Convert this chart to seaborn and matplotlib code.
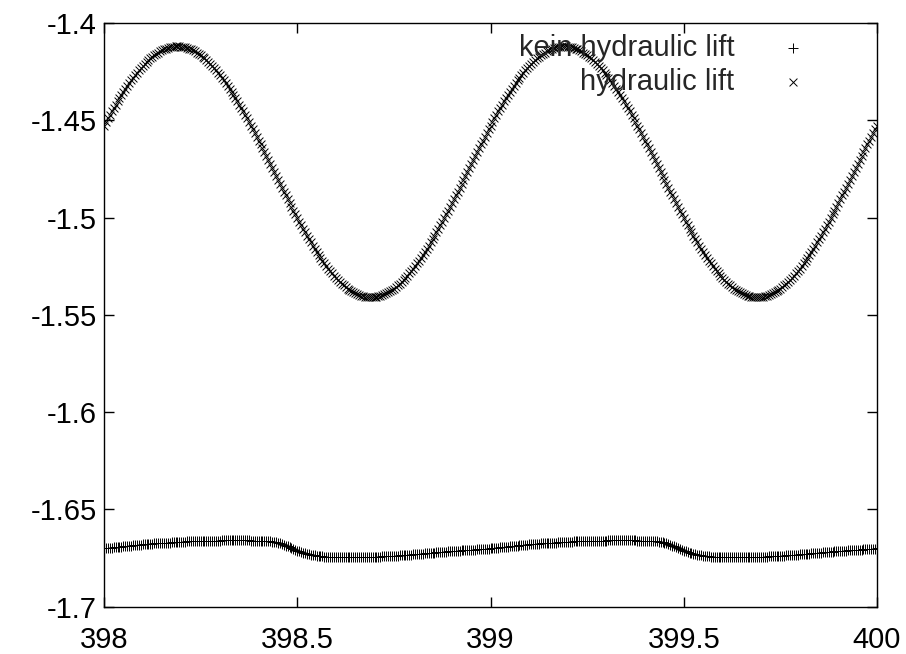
import matplotlib
matplotlib.use("Agg")
import matplotlib.pyplot as plt
import seaborn as sns
import pandas as pd
from matplotlib.ticker import FuncFormatter, FixedLocator

# time axis, sampled every 0.005 from 398 to 400
x_start, x_step, n_points = 398.0, 0.005, 401
time = [round(x_start + i * x_step, 3) for i in range(n_points)]

# reading without hydraulic lift
kein_lift = [
    -1.6700, -1.6699, -1.6698, -1.6697, -1.6696, -1.6695, -1.6694, -1.6693, -1.6692, -1.6691,
    -1.6690, -1.6689, -1.6688, -1.6687, -1.6686, -1.6685, -1.6684, -1.6683, -1.6682, -1.6681,
    -1.6680, -1.6679, -1.6678, -1.6677, -1.6677, -1.6676, -1.6675, -1.6674, -1.6674, -1.6673,
    -1.6672, -1.6671, -1.6671, -1.6670, -1.6670, -1.6669, -1.6668, -1.6667, -1.6667, -1.6666,
    -1.6666, -1.6665, -1.6665, -1.6664, -1.6664, -1.6663, -1.6663, -1.6663, -1.6663, -1.6662,
    -1.6662, -1.6661, -1.6661, -1.6661, -1.6661, -1.6660, -1.6660, -1.6660, -1.6660, -1.6660,
    -1.6660, -1.6659, -1.6659, -1.6659, -1.6659, -1.6659, -1.6659, -1.6659, -1.6659, -1.6659,
    -1.6659, -1.6659, -1.6659, -1.6659, -1.6659, -1.6659, -1.6660, -1.6660, -1.6660, -1.6660,
    -1.6660, -1.6660, -1.6661, -1.6661, -1.6662, -1.6663, -1.6664, -1.6665, -1.6667, -1.6669,
    -1.6672, -1.6675, -1.6678, -1.6682, -1.6686, -1.6690, -1.6695, -1.6700, -1.6704, -1.6708,
    -1.6712, -1.6716, -1.6719, -1.6722, -1.6725, -1.6728, -1.6730, -1.6732, -1.6734, -1.6736,
    -1.6737, -1.6739, -1.6740, -1.6741, -1.6742, -1.6743, -1.6743, -1.6744, -1.6744, -1.6745,
    -1.6745, -1.6745, -1.6745, -1.6745, -1.6745, -1.6745, -1.6745, -1.6745, -1.6745, -1.6745,
    -1.6745, -1.6745, -1.6745, -1.6745, -1.6744, -1.6744, -1.6744, -1.6744, -1.6743, -1.6743,
    -1.6743, -1.6743, -1.6742, -1.6742, -1.6741, -1.6741, -1.6740, -1.6740, -1.6739, -1.6739,
    -1.6738, -1.6738, -1.6737, -1.6736, -1.6735, -1.6735, -1.6734, -1.6733, -1.6732, -1.6732,
    -1.6731, -1.6730, -1.6729, -1.6729, -1.6728, -1.6727, -1.6726, -1.6726, -1.6725, -1.6724,
    -1.6723, -1.6722, -1.6721, -1.6721, -1.6720, -1.6719, -1.6718, -1.6717, -1.6716, -1.6716,
    -1.6715, -1.6714, -1.6713, -1.6713, -1.6712, -1.6711, -1.6710, -1.6710, -1.6709, -1.6709,
    -1.6708, -1.6707, -1.6706, -1.6705, -1.6704, -1.6704, -1.6703, -1.6702, -1.6701, -1.6701,
    -1.6700, -1.6699, -1.6698, -1.6697, -1.6696, -1.6695, -1.6694, -1.6693, -1.6692, -1.6691,
    -1.6690, -1.6689, -1.6688, -1.6687, -1.6686, -1.6685, -1.6684, -1.6683, -1.6682, -1.6681,
    -1.6680, -1.6679, -1.6678, -1.6677, -1.6677, -1.6676, -1.6675, -1.6674, -1.6674, -1.6673,
    -1.6672, -1.6671, -1.6671, -1.6670, -1.6670, -1.6669, -1.6668, -1.6667, -1.6667, -1.6666,
    -1.6666, -1.6665, -1.6665, -1.6664, -1.6664, -1.6663, -1.6663, -1.6663, -1.6663, -1.6662,
    -1.6662, -1.6661, -1.6661, -1.6661, -1.6661, -1.6660, -1.6660, -1.6660, -1.6660, -1.6660,
    -1.6660, -1.6659, -1.6659, -1.6659, -1.6659, -1.6659, -1.6659, -1.6659, -1.6659, -1.6659,
    -1.6659, -1.6659, -1.6659, -1.6659, -1.6659, -1.6659, -1.6660, -1.6660, -1.6660, -1.6660,
    -1.6660, -1.6660, -1.6661, -1.6661, -1.6662, -1.6663, -1.6664, -1.6665, -1.6667, -1.6669,
    -1.6672, -1.6675, -1.6678, -1.6682, -1.6686, -1.6690, -1.6695, -1.6700, -1.6704, -1.6708,
    -1.6712, -1.6716, -1.6719, -1.6722, -1.6725, -1.6728, -1.6730, -1.6732, -1.6734, -1.6736,
    -1.6737, -1.6739, -1.6740, -1.6741, -1.6742, -1.6743, -1.6743, -1.6744, -1.6744, -1.6745,
    -1.6745, -1.6745, -1.6745, -1.6745, -1.6745, -1.6745, -1.6745, -1.6745, -1.6745, -1.6745,
    -1.6745, -1.6745, -1.6745, -1.6745, -1.6744, -1.6744, -1.6744, -1.6744, -1.6743, -1.6743,
    -1.6743, -1.6743, -1.6742, -1.6742, -1.6741, -1.6741, -1.6740, -1.6740, -1.6739, -1.6739,
    -1.6738, -1.6738, -1.6737, -1.6736, -1.6735, -1.6735, -1.6734, -1.6733, -1.6732, -1.6732,
    -1.6731, -1.6730, -1.6729, -1.6729, -1.6728, -1.6727, -1.6726, -1.6726, -1.6725, -1.6724,
    -1.6723, -1.6722, -1.6721, -1.6721, -1.6720, -1.6719, -1.6718, -1.6717, -1.6716, -1.6716,
    -1.6715, -1.6714, -1.6713, -1.6713, -1.6712, -1.6711, -1.6710, -1.6710, -1.6709, -1.6709,
    -1.6708, -1.6707, -1.6706, -1.6705, -1.6704, -1.6704, -1.6703, -1.6702, -1.6701, -1.6701,
    -1.6700,
]

# reading with hydraulic lift
mit_lift = [
    -1.4528, -1.4509, -1.4490, -1.4472, -1.4454, -1.4437, -1.4419, -1.4402, -1.4386, -1.4370,
    -1.4354, -1.4338, -1.4323, -1.4309, -1.4295, -1.4281, -1.4268, -1.4255, -1.4243, -1.4232,
    -1.4220, -1.4210, -1.4200, -1.4190, -1.4181, -1.4173, -1.4165, -1.4158, -1.4152, -1.4146,
    -1.4140, -1.4136, -1.4131, -1.4128, -1.4125, -1.4123, -1.4121, -1.4120, -1.4120,
    -1.4120, -1.4121, -1.4123, -1.4125, -1.4128, -1.4131, -1.4136, -1.4140, -1.4146, -1.4152,
    -1.4158, -1.4165, -1.4173, -1.4181, -1.4190, -1.4200, -1.4210, -1.4220, -1.4232, -1.4243,
    -1.4255, -1.4268, -1.4281, -1.4295, -1.4309, -1.4323, -1.4338, -1.4354, -1.4370, -1.4386,
    -1.4402, -1.4419, -1.4437, -1.4454, -1.4472, -1.4490, -1.4509, -1.4528, -1.4547, -1.4566,
    -1.4585, -1.4605, -1.4624, -1.4644, -1.4664, -1.4684, -1.4704, -1.4725, -1.4745, -1.4765,
    -1.4785, -1.4805, -1.4826, -1.4846, -1.4866, -1.4886, -1.4906, -1.4925, -1.4945, -1.4964,
    -1.4984, -1.5002, -1.5021, -1.5040, -1.5058, -1.5076, -1.5093, -1.5111, -1.5128, -1.5144,
    -1.5160, -1.5176, -1.5192, -1.5207, -1.5221, -1.5235, -1.5249, -1.5262, -1.5275, -1.5287,
    -1.5299, -1.5310, -1.5320, -1.5330, -1.5340, -1.5349, -1.5357, -1.5365, -1.5372, -1.5378,
    -1.5384, -1.5390, -1.5395, -1.5399, -1.5402, -1.5405, -1.5407, -1.5409, -1.5410, -1.5410,
    -1.5410, -1.5409, -1.5407, -1.5405, -1.5402, -1.5399, -1.5395, -1.5390, -1.5384, -1.5378,
    -1.5372, -1.5365, -1.5357, -1.5349, -1.5340, -1.5330, -1.5320, -1.5310, -1.5299, -1.5287,
    -1.5275, -1.5262, -1.5249, -1.5235, -1.5221, -1.5207, -1.5192, -1.5176, -1.5160, -1.5144,
    -1.5128, -1.5111, -1.5093, -1.5076, -1.5058, -1.5040, -1.5021, -1.5002, -1.4984, -1.4964,
    -1.4945, -1.4925, -1.4906, -1.4886, -1.4866, -1.4846, -1.4826, -1.4805, -1.4785, -1.4765,
    -1.4745, -1.4725, -1.4704, -1.4684, -1.4664, -1.4644, -1.4624, -1.4605, -1.4585, -1.4566,
    -1.4547, -1.4528, -1.4509, -1.4490, -1.4472, -1.4454, -1.4437, -1.4419, -1.4402, -1.4386,
    -1.4370, -1.4354, -1.4338, -1.4323, -1.4309, -1.4295, -1.4281, -1.4268, -1.4255, -1.4243,
    -1.4232, -1.4220, -1.4210, -1.4200, -1.4190, -1.4181, -1.4173, -1.4165, -1.4158, -1.4152,
    -1.4146, -1.4140, -1.4136, -1.4131, -1.4128, -1.4125, -1.4123, -1.4121, -1.4120, -1.4120,
    -1.4120, -1.4121, -1.4123, -1.4125, -1.4128, -1.4131, -1.4136, -1.4140, -1.4146, -1.4152,
    -1.4158, -1.4165, -1.4173, -1.4181, -1.4190, -1.4200, -1.4210, -1.4220, -1.4232, -1.4243,
    -1.4255, -1.4268, -1.4281, -1.4295, -1.4309, -1.4323, -1.4338, -1.4354, -1.4370, -1.4386,
    -1.4402, -1.4419, -1.4437, -1.4454, -1.4472, -1.4490, -1.4509, -1.4528, -1.4547, -1.4566,
    -1.4585, -1.4605, -1.4624, -1.4644, -1.4664, -1.4684, -1.4704, -1.4725, -1.4745, -1.4765,
    -1.4785, -1.4805, -1.4826, -1.4846, -1.4866, -1.4886, -1.4906, -1.4925, -1.4945, -1.4964,
    -1.4984, -1.5002, -1.5021, -1.5040, -1.5058, -1.5076, -1.5093, -1.5111, -1.5128, -1.5144,
    -1.5160, -1.5176, -1.5192, -1.5207, -1.5221, -1.5235, -1.5249, -1.5262, -1.5275, -1.5287,
    -1.5299, -1.5310, -1.5320, -1.5330, -1.5340, -1.5349, -1.5357, -1.5365, -1.5372, -1.5378,
    -1.5384, -1.5390, -1.5395, -1.5399, -1.5402, -1.5405, -1.5407, -1.5409, -1.5410, -1.5410,
    -1.5410, -1.5409, -1.5407, -1.5405, -1.5402, -1.5399, -1.5395, -1.5390, -1.5384, -1.5378,
    -1.5372, -1.5365, -1.5357, -1.5349, -1.5340, -1.5330, -1.5320, -1.5310, -1.5299, -1.5287,
    -1.5275, -1.5262, -1.5249, -1.5235, -1.5221, -1.5207, -1.5192, -1.5176, -1.5160, -1.5144,
    -1.5128, -1.5111, -1.5093, -1.5076, -1.5058, -1.5040, -1.5021, -1.5002, -1.4984, -1.4964,
    -1.4945, -1.4925, -1.4906, -1.4886, -1.4866, -1.4846, -1.4826, -1.4805, -1.4785, -1.4765,
    -1.4745, -1.4725, -1.4704, -1.4684, -1.4664, -1.4644, -1.4624, -1.4605, -1.4585, -1.4566,
    -1.4547, -1.4528,
]

series_labels = ["kein hydraulic lift", "hydraulic lift"]
x_ticks = [398, 398.5, 399, 399.5, 400]
y_ticks = [-1.7, -1.65, -1.6, -1.55, -1.5, -1.45, -1.4]

sns.set_theme(style="white")
plt.rcParams["font.family"] = ["Liberation Sans", "DejaVu Sans"]
plt.rcParams["axes.unicode_minus"] = False

fig = plt.figure(figsize=(9.06, 6.54), dpi=100)
ax = fig.add_axes([0.1148, 0.0723, 0.8532, 0.8925])

df_kein = pd.DataFrame({"t": time, "v": kein_lift})
df_mit = pd.DataFrame({"t": time, "v": mit_lift})

sns.scatterplot(data=df_kein, x="t", y="v", marker="+", color="black",
                s=45, linewidth=0.7, label=series_labels[0], ax=ax)
sns.scatterplot(data=df_mit, x="t", y="v", marker="x", color="black",
                s=32, linewidth=0.7, label=series_labels[1], ax=ax)

ax.set_xlim(398, 400)
ax.set_ylim(-1.7, -1.4)
ax.xaxis.set_major_locator(FixedLocator(x_ticks))
ax.yaxis.set_major_locator(FixedLocator(y_ticks))
fmt = FuncFormatter(lambda v, pos: "%g" % v)
ax.xaxis.set_major_formatter(fmt)
ax.yaxis.set_major_formatter(fmt)
ax.set_xlabel("")
ax.set_ylabel("")

for side in ax.spines.values():
    side.set_color("black")
    side.set_linewidth(1.0)

ax.tick_params(axis="both", which="major", direction="in", length=7, width=1.0,
               color="black", labelsize=21, labelcolor="black",
               top=True, right=True, bottom=True, left=True)
ax.tick_params(axis="x", pad=14)
ax.tick_params(axis="y", pad=5)

leg = ax.legend(loc="upper right", bbox_to_anchor=(0.955, 1.006), frameon=False,
                markerfirst=False, fontsize=21, handlelength=2.4,
                handletextpad=0.8, labelspacing=0.2, borderaxespad=0.1,
                markerscale=1.0)

fig.savefig("out.png", dpi=100, facecolor="white")
